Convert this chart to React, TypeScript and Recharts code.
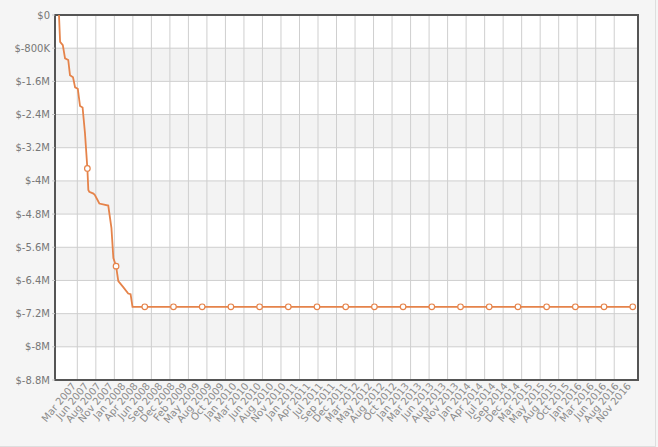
import React from 'react';
import { ComposedChart, Line, XAxis, YAxis, CartesianGrid, ReferenceArea } from 'recharts';

// cumulative P&L, dates
const DATES = [
  '2006-12-03', '2006-12-10', '2006-12-27', '2007-01-11', '2007-02-01', '2007-02-12',
  '2007-03-01', '2007-03-14', '2007-04-01', '2007-04-15', '2007-05-01', '2007-05-16',
  '2007-06-01', '2007-06-07', '2007-06-13', '2007-07-09', '2007-07-19', '2007-08-16',
  '2007-10-12', '2007-11-02', '2007-11-14', '2007-12-01', '2007-12-15', '2008-01-16',
  '2008-02-17', '2008-03-02', '2008-03-14',
  '2008-06-01', '2008-12-01', '2009-06-01', '2009-12-01', '2010-06-01', '2010-12-01',
  '2011-06-01', '2011-12-01', '2012-06-01', '2012-12-01', '2013-06-01', '2013-12-01',
  '2014-06-01', '2014-12-01', '2015-06-01', '2015-12-01', '2016-06-01', '2016-12-01',
  '2016-12-20',
];

const BALANCE = [
  0, -650000, -725000, -1045000, -1085000, -1450000,
  -1500000, -1745000, -1780000, -2195000, -2230000, -2850000,
  -3700000, -4220000, -4265000, -4305000, -4345000, -4545000,
  -4595000, -5140000, -5860000, -6055000, -6415000, -6560000,
  -6715000, -6730000, -7035000,
  -7035000, -7035000, -7035000, -7035000, -7035000, -7035000,
  -7035000, -7035000, -7035000, -7035000, -7035000, -7035000,
  -7035000, -7035000, -7035000, -7035000, -7035000, -7035000,
  -7035000,
];

// points that get an anchor circle
const MARKER_DATES = [
  '2007-06-01', '2007-12-01',
  '2008-06-01', '2008-12-01', '2009-06-01', '2009-12-01', '2010-06-01', '2010-12-01',
  '2011-06-01', '2011-12-01', '2012-06-01', '2012-12-01', '2013-06-01', '2013-12-01',
  '2014-06-01', '2014-12-01', '2015-06-01', '2015-12-01', '2016-06-01', '2016-12-01',
];

const TICK_LABELS = [
  'Mar 2007', 'Jun 2007', 'Aug 2007', 'Nov 2007', 'Jan 2008', 'Apr 2008', 'Jun 2008',
  'Sep 2008', 'Dec 2008', 'Feb 2009', 'May 2009', 'Aug 2009', 'Oct 2009', 'Jan 2010',
  'Mar 2010', 'Jun 2010', 'Aug 2010', 'Nov 2010', 'Jan 2011', 'Apr 2011', 'Jul 2011',
  'Sep 2011', 'Dec 2011', 'Mar 2012', 'May 2012', 'Aug 2012', 'Oct 2012', 'Jan 2013',
  'Mar 2013', 'Jun 2013', 'Aug 2013', 'Nov 2013', 'Jan 2014', 'Apr 2014', 'Jul 2014',
  'Sep 2014', 'Dec 2014', 'Mar 2015', 'May 2015', 'Aug 2015', 'Oct 2015', 'Jan 2016',
  'Mar 2016', 'Jun 2016', 'Aug 2016', 'Nov 2016',
];

const Y_TICKS = [
  0, -800000, -1600000, -2400000, -3200000, -4000000, -4800000,
  -5600000, -6400000, -7200000, -8000000, -8800000,
];

// months since Jan 2007
const toMonth = (s: string) => {
  const [y, m, d] = s.split('-').map(Number);
  return (y - 2007) * 12 + (m - 1) + (d - 1) / 30;
};

const X_MIN = toMonth('2006-11-08');
const X_MAX = toMonth('2017-01-04');

// labels are spread evenly between the first and last label date
const LABEL_FIRST = toMonth('2007-03-01');
const LABEL_LAST = toMonth('2016-11-01');
const LABEL_TICKS = TICK_LABELS.map(
  (_, i) => LABEL_FIRST + (i * (LABEL_LAST - LABEL_FIRST)) / (TICK_LABELS.length - 1)
);

// vertical div lines
const GRID_FIRST = toMonth('2007-03-28');
const GRID_STEP = 3.87;
const GRID_TICKS = Array.from({ length: 30 }, (_, i) => GRID_FIRST + i * GRID_STEP);

const MARKERS = new Set(MARKER_DATES);
const DATA = DATES.map((d, i) => ({ t: toMonth(d), date: d, value: BALANCE[i] }));

const FONT = '"DejaVu Sans", Verdana, sans-serif';
const ORANGE = '#e5834a';

const fmtMoney = (v: number) => {
  if (v === 0) return '$0';
  const a = Math.abs(v);
  return a >= 1000000 ? `$-${+(a / 1000000).toFixed(1)}M` : `$-${a / 1000}K`;
};

const MonthTick = ({ x, y, payload }: any) => {
  const idx = LABEL_TICKS.indexOf(payload.value);
  const tx = x + 1;
  const ty = y + 4;
  return (
    <text
      x={tx}
      y={ty}
      dy={3.5}
      textAnchor="end"
      fill="#8a8a8a"
      fontSize={10}
      fontFamily={FONT}
      transform={`rotate(-50, ${tx}, ${ty})`}
    >
      {TICK_LABELS[idx]}
    </text>
  );
};

const Anchor = (props: any) => {
  const { cx, cy, payload, index } = props;
  if (!MARKERS.has(payload.date)) return <g key={`d${index}`} />;
  return <circle key={`d${index}`} cx={cx} cy={cy} r={2.8} fill="#fff" stroke={ORANGE} strokeWidth={1.2} />;
};

export default function App() {
  return (
    <div style={{ position: 'absolute', left: 0, top: 0, width: 658, height: 447, background: '#f5f5f5' }}>
      <div
        style={{
          position: 'absolute', left: 0, top: 0, width: 656, height: 447, boxSizing: 'border-box',
          borderRight: '1px solid #dedede', borderBottom: '1px solid #dedede',
        }}
      />
      <div style={{ position: 'absolute', left: 0, top: 0 }}>
        <ComposedChart width={658} height={447} data={DATA} margin={{ top: 15, right: 20, bottom: 7, left: 5 }}>
          <CartesianGrid
            xAxisId="grid"
            stroke="#cfcfcf"
            horizontalFill={['#ffffff', '#f3f3f3']}
            fillOpacity={1}
          />
          <XAxis
            dataKey="t"
            type="number"
            domain={[X_MIN, X_MAX]}
            allowDataOverflow
            ticks={LABEL_TICKS}
            interval={0}
            tick={<MonthTick />}
            tickLine={false}
            axisLine={false}
            tickSize={0}
            tickMargin={0}
            height={60}
          />
          <XAxis
            xAxisId="grid"
            dataKey="t"
            type="number"
            domain={[X_MIN, X_MAX]}
            allowDataOverflow
            ticks={GRID_TICKS}
            interval={0}
            hide
          />
          <YAxis
            type="number"
            domain={[-8800000, 0]}
            ticks={Y_TICKS}
            interval={0}
            width={50}
            axisLine={false}
            tickLine={{ stroke: '#c8c8c8' }}
            tickSize={3}
            tickMargin={2}
            tick={{ fill: '#777', fontSize: 10, fontFamily: FONT }}
            tickFormatter={fmtMoney}
          />
          <Line
            type="linear"
            dataKey="value"
            stroke={ORANGE}
            strokeWidth={1.8}
            dot={Anchor}
            activeDot={false}
            isAnimationActive={false}
          />
          <ReferenceArea x1={X_MIN} x2={X_MAX} y1={-8800000} y2={0} fill="none" stroke="#555" strokeWidth={2} />
        </ComposedChart>
      </div>
    </div>
  );
}
